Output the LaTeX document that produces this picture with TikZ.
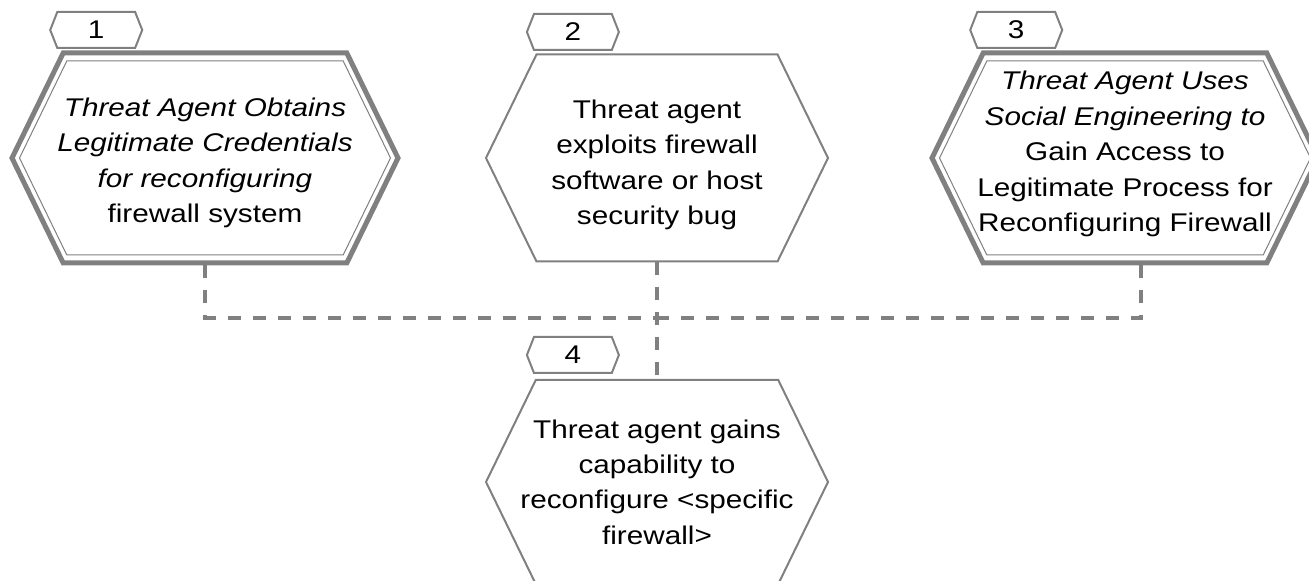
\documentclass[tikz,border=0pt]{standalone}
\usepackage{fontspec}
\setmainfont{Liberation Sans}[FakeStretch=1.16]
\usetikzlibrary{shapes.symbols}

\begin{document}
\begin{tikzpicture}[x=0.5pt, y=-0.5pt,
  hexa/.style = {draw=gray, line width=1pt, shape=signal, signal to=west and east, signal pointer angle=128, minimum width=171pt, minimum height=103.5pt, inner sep=0pt},
  main/.style = {hexa, line width=2.5pt, minimum width=193pt, minimum height=105pt},
  rim/.style = {hexa, line width=0.5pt, minimum width=185.5pt, minimum height=97pt},
  txt/.style = {inner sep=0pt, align=center, font=\fontsize{12.8}{17.7}\selectfont},
  numtag/.style = {draw=gray, line width=1pt, shape=signal, signal to=west and east, signal pointer angle=137, minimum width=46pt, minimum height=18pt, inner sep=0pt, font=\fontsize{12.8}{15}\selectfont},
  link/.style = {draw=gray, line width=1.6pt, dash pattern=on 6.5pt off 6pt}]
\useasboundingbox (0,0) rectangle (1309,581);
\clip (0,0) rectangle (1309,581);

\node[main] (h1) at (205,158) {};
\node[rim] (r1) at (h1) {};
\node[txt] (l1) at ([yshift=-2.5pt]h1) {\textit{Threat Agent Obtains}\\ \textit{Legitimate Credentials}\\ \textit{for reconfiguring}\\ firewall system};
\node[hexa] (h2) at (657,158) {};
\node[txt] (l2) at ([yshift=-3.5pt]h2) {Threat agent\\ exploits firewall\\ software or host\\ security bug};
\node[main] (h3) at (1125,158) {};
\node[rim] (r3) at (h3) {};
\node[txt] (l3) at ([yshift=2pt]h3) {\textit{Threat Agent Uses}\\ \textit{Social Engineering to}\\ Gain Access to\\ Legitimate Process for\\ Reconfiguring Firewall};
\node[hexa, minimum height=102pt] (h4) at (657,482) {};
\node[txt] (l4) at (h4) {Threat agent gains\\ capability to\\ reconfigure <specific\\ firewall>};

\node[numtag] (t1) at ([shift={(43.5pt,64pt)}]h1.west) {1};
\node[numtag] (t2) at ([shift={(44pt,63pt)}]h2.west) {2};
\node[numtag] (t3) at ([shift={(43.5pt,64pt)}]h3.west) {3};
\node[numtag] (t4) at ([shift={(44pt,63.5pt)}]h4.west) {4};

\coordinate (join) at (657,318);
\draw[link] (h1.south) |- (join);
\draw[link] ([xshift=8pt]h3.south) |- (join);
\draw[link] (h2.south) -- (h4.north);
\end{tikzpicture}
\end{document}
